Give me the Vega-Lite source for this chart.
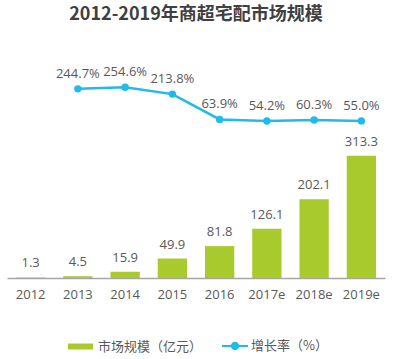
{
  "$schema": "https://vega.github.io/schema/vega-lite/v6.json",
  "width": 378,
  "height": 238,
  "autosize": {"type": "none"},
  "padding": {"left": 7, "top": 40, "right": 18, "bottom": 81},
  "background": "white",
  "title": {
    "text": "2012-2019年商超宅配市场规模",
    "font": "Noto Sans CJK SC",
    "fontSize": 18,
    "fontWeight": "bold",
    "color": "#404040",
    "anchor": "middle",
    "offset": 16
  },
  "config": {
    "view": {"stroke": null},
    "text": {"font": "Open Sans", "fontSize": 13, "color": "#595959"},
    "legend": {
      "orient": "none",
      "direction": "horizontal",
      "labelFont": "Noto Sans CJK SC",
      "labelFontSize": 13,
      "labelColor": "#595959",
      "title": null,
      "padding": 0
    }
  },
  "data": {
    "values": [
      {"year": "2012", "size": 1.3, "rate": null, "rateLabel": null},
      {"year": "2013", "size": 4.5, "rate": 244.7, "rateLabel": "244.7%"},
      {"year": "2014", "size": 15.9, "rate": 254.6, "rateLabel": "254.6%"},
      {"year": "2015", "size": 49.9, "rate": 213.8, "rateLabel": "213.8%"},
      {"year": "2016", "size": 81.8, "rate": 63.9, "rateLabel": "63.9%"},
      {"year": "2017e", "size": 126.1, "rate": 54.2, "rateLabel": "54.2%"},
      {"year": "2018e", "size": 202.1, "rate": 60.3, "rateLabel": "60.3%"},
      {"year": "2019e", "size": 313.3, "rate": 55.0, "rateLabel": "55.0%"}
    ]
  },
  "encoding": {
    "x": {
      "field": "year",
      "type": "ordinal",
      "sort": null,
      "scale": {"paddingInner": 0.38, "paddingOuter": 0.19},
      "axis": {
        "title": null,
        "labelAngle": 0,
        "labelFont": "Open Sans",
        "labelFontSize": 13,
        "labelColor": "#595959",
        "labelPadding": 10,
        "ticks": false,
        "domainColor": "#A6A6A6",
        "domainWidth": 1.5
      }
    }
  },
  "layer": [
    {
      "layer": [
        {
          "mark": {"type": "bar"},
          "encoding": {
            "y": {"field": "size", "type": "quantitative", "scale": {"domain": [0, 610]}, "axis": null},
            "fill": {
              "datum": "市场规模（亿元）",
              "scale": {"range": ["#A9CA2C"]},
              "legend": {
                "legendX": 60,
                "legendY": 293,
                "symbolType": "M-1,-0.24H1V0.24H-1Z",
                "symbolSize": 625,
                "labelOffset": 4
              }
            }
          }
        },
        {
          "mark": {"type": "text", "dy": -10, "baseline": "alphabetic"},
          "encoding": {
            "y": {"field": "size", "type": "quantitative", "scale": {"domain": [0, 610]}, "axis": null},
            "text": {"field": "size", "type": "quantitative", "format": ".1f"}
          }
        }
      ]
    },
    {
      "transform": [{"filter": "datum.rate != null"}],
      "layer": [
        {
          "mark": {"type": "line", "strokeWidth": 2.5},
          "encoding": {
            "y": {"field": "rate", "type": "quantitative", "scale": {"domain": [-875, 534]}, "axis": null},
            "stroke": {
              "datum": "增长率（%）",
              "scale": {"range": ["#1FBBEA"]},
              "legend": {
                "legendX": 215,
                "legendY": 293,
                "symbolType": "M-1,-0.08H1V0.08H-1Z M-0.32,0A0.32,0.32 0 1,1 0.32,0A0.32,0.32 0 1,1 -0.32,0Z",
                "symbolSize": 676,
                "symbolFillColor": "#1FBBEA",
                "symbolStrokeWidth": 0,
                "labelOffset": 3
              }
            }
          }
        },
        {
          "mark": {"type": "point", "filled": true, "size": 55, "opacity": 1, "color": "#1FBBEA"},
          "encoding": {
            "y": {"field": "rate", "type": "quantitative", "scale": {"domain": [-875, 534]}, "axis": null}
          }
        },
        {
          "mark": {"type": "text", "dy": -11, "baseline": "alphabetic"},
          "encoding": {
            "y": {"field": "rate", "type": "quantitative", "scale": {"domain": [-875, 534]}, "axis": null},
            "text": {"field": "rateLabel", "type": "nominal"}
          }
        }
      ]
    }
  ],
  "resolve": {"scale": {"y": "independent"}}
}
